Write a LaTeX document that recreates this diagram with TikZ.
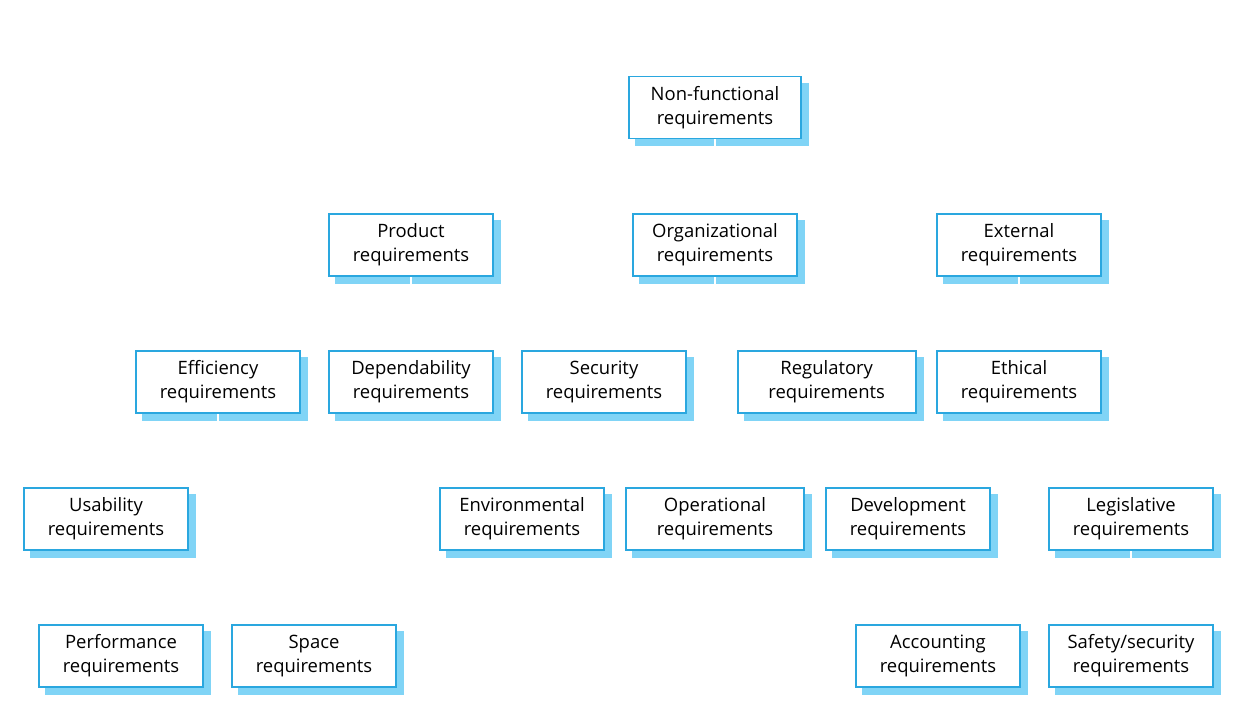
\documentclass[tikz,border=0pt]{standalone}
\usepackage{fontspec}
\setmainfont{Open Sans}
\definecolor{reqB}{RGB}{42,167,223}
\definecolor{reqS}{RGB}{128,212,246}
\pgfdeclarelayer{shadow}
\pgfdeclarelayer{links}
\pgfsetlayers{shadow,links,main}
\tikzset{
  req/.style={draw=reqB,line width=1.1pt,fill=white,minimum width=3.28cm,minimum height=1.24cm,
    inner sep=0pt,align=center,font=\fontsize{10.5}{13.5}\selectfont},
  wide/.style={minimum width=3.56cm},
  link/.style={draw=white,line width=1.6pt},
}
\begin{document}
\begin{tikzpicture}[x=0.02cm,y=-0.02cm]
\useasboundingbox (0,0) rectangle (1248,726);
% boxes
\node[req,minimum width=3.44cm] (nf) at (715,107.5) {Non-functional\\requirements};
\node[req] (prod) at (411,245) {Product\\requirements};
\node[req] (org) at (715,245) {Organizational\\requirements};
\node[req] (ext) at (1019,245) {External\\requirements};
\node[req] (eff) at (218,382) {Efficiency\\requirements};
\node[req] (dep) at (411,382) {Dependability\\requirements};
\node[req] (sec) at (604,382) {Security\\requirements};
\node[req,wide] (reg) at (826.7,382) {Regulatory\\requirements};
\node[req] (eth) at (1019,382) {Ethical\\requirements};
\node[req] (usa) at (106,519) {Usability\\requirements};
\node[req] (env) at (522,519) {Environmental\\requirements};
\node[req,wide] (ope) at (715,519) {Operational\\requirements};
\node[req] (dev) at (908,519) {Development\\requirements};
\node[req] (leg) at (1131,519) {Legislative\\requirements};
\node[req] (per) at (121,656) {Performance\\requirements};
\node[req] (spa) at (314,656) {Space\\requirements};
\node[req] (acc) at (938,656) {Accounting\\requirements};
\node[req] (saf) at (1131,656) {Safety/security\\requirements};
% shadows
\begin{pgfonlayer}{shadow}
\foreach \n in {nf,prod,org,ext,eff,dep,sec,reg,eth,usa,env,ope,dev,leg,per,spa,acc,saf}
  \fill[reqS] ([xshift=1.4mm,yshift=-1.4mm]\n.south west) rectangle ([xshift=1.4mm,yshift=-1.4mm]\n.north east);
\end{pgfonlayer}
% tree links
\begin{pgfonlayer}{links}
\foreach \c in {prod,org,ext} \draw[link] (nf.south) -- ++(0,38) -| (\c.north);
\foreach \c in {eff,dep,sec,usa} \draw[link] (prod.south) -- ++(0,37) -| (\c.north);
\foreach \c in {env,ope,dev} \draw[link] (org.south) -- ++(0,174) -| (\c.north);
\foreach \c in {reg,eth,leg} \draw[link] (ext.south) -- ++(0,37) -| (\c.north);
\foreach \c in {per,spa} \draw[link] (eff.south) -- ++(0,174) -| (\c.north);
\foreach \c in {acc,saf} \draw[link] (leg.south) -- ++(0,37) -| (\c.north);
\end{pgfonlayer}
\end{tikzpicture}
\end{document}
